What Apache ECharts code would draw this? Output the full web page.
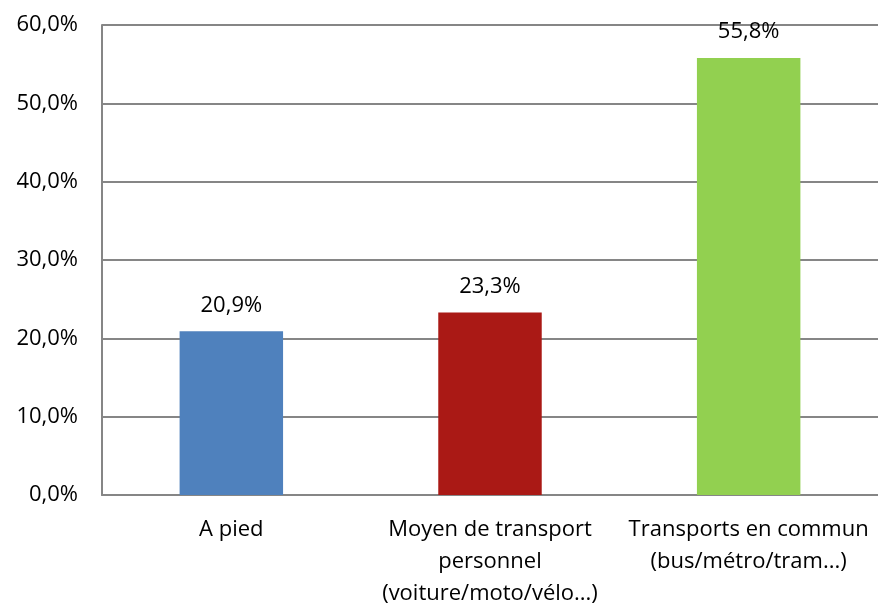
<!DOCTYPE html>
<html><head><meta charset="utf-8">
<script src="https://cdn.jsdelivr.net/npm/echarts@6/dist/echarts.min.js"></script>
<style>html,body{margin:0;padding:0;background:#fff}#c{width:878px;height:607px}</style>
</head><body><div id="c"></div>
<script>
var categories = ["A pied", "Moyen de transport\npersonnel\n(voiture/moto/vélo...)", "Transports en commun\n(bus/métro/tram...)"];
var values = [20.9, 23.3, 55.8];
var colors = ["#4F81BD", "#AA1915", "#92D050"];
var fmt = function(v){ return v.toFixed(1).replace('.', ',') + '%'; };
var chart = echarts.init(document.getElementById('c'));
chart.setOption({
  animation: false,
  grid: {left: 102, right: 0, top: 25, bottom: 112, containLabel: false, outerBoundsMode: 'none'},
  xAxis: {
    type: 'category', data: categories,
    axisLine: {lineStyle: {color: '#868686', width: 2}},
    axisTick: {show: false},
    axisLabel: {color: '#000', fontFamily: 'Open Sans', fontSize: 22, lineHeight: 32, margin: 19, interval: 0, hideOverlap: false}
  },
  yAxis: {
    type: 'value', min: 0, max: 60, interval: 10,
    axisLine: {show: true, lineStyle: {color: '#868686', width: 2}},
    axisTick: {show: false},
    splitLine: {lineStyle: {color: '#868686', width: 2}},
    axisLabel: {color: '#000', fontFamily: 'Open Sans', fontSize: 22, margin: 24, formatter: function(v){ return fmt(v); }}
  },
  series: [{
    type: 'bar', barWidth: '40%',
    data: values.map(function(v, i){ return {value: v, itemStyle: {color: colors[i]}}; }),
    label: {show: true, position: 'top', distance: 15, color: '#000', fontFamily: 'Open Sans', fontSize: 22,
      formatter: function(p){ return fmt(p.value); }}
  }]
});
</script></body></html>
